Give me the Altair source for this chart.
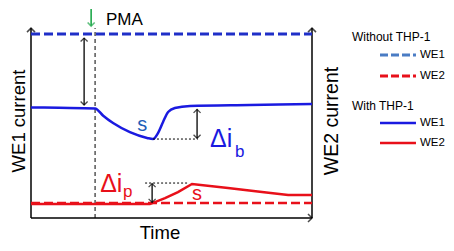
import altair as alt
import pandas as pd

# ---------------- data (time and current in arbitrary units 0-100) ----------------
time_we1 = [0, 10, 22.8, 25.7, 29.2, 35.2, 41.3, 43.4, 45.2, 47.0, 48.8, 51.2, 56.6, 77.9, 100]
we1_with = [58.8, 58.6, 58.3, 54.4, 50.5, 45.7, 42.6, 42.0, 45.2, 51.1, 56.4, 58.5, 59.6, 60.1, 60.6]
time_we2 = [0, 42.3, 47.7, 52.3, 57.3, 70.1, 82.2, 91.5, 100]
we2_with = [7.4, 7.4, 10.6, 13.8, 18.1, 16.0, 13.8, 12.2, 12.2]
time_span = [0, 100]
we1_without = [97.9, 97.9]
we2_without = [8.0, 8.0]

pma_time = 22.8
legend_groups = ["Without THP-1", "With THP-1"]
legend_labels = ["WE1", "WE2"]

FONT = "Liberation Sans"
BLUE = "#1a1ae0"
BLUE_D = "#1f2fc8"
BLUE_L = "#4a7cc4"
RED = "#e8101a"
GREEN = "#1fa84a"

xs = alt.Scale(domain=[0, 100], nice=False, zero=False)
ys = alt.Scale(domain=[0, 100], nice=False, zero=False)
X = alt.X("t:Q", scale=xs, axis=None)
Y = alt.Y("c:Q", scale=ys, axis=None)


def line(df, color, width, dash=None):
    kw = dict(color=color, strokeWidth=width, clip=False)
    if dash:
        kw["strokeDash"] = dash
    return alt.Chart(df).mark_line(**kw).encode(x=X, y=Y, detail="g:N", order="o:Q")


def segs(pairs):
    rows = []
    for i, ((t1, c1), (t2, c2)) in enumerate(pairs):
        rows.append({"t": t1, "c": c1, "g": i, "o": 0})
        rows.append({"t": t2, "c": c2, "g": i, "o": 1})
    return pd.DataFrame(rows)


def heads(rows, color="black", size=64, width=1.3):
    df = pd.DataFrame(rows, columns=["t", "c", "a"])
    return alt.Chart(df).mark_point(
        shape="M-1,1L0,0L1,1", filled=False, color=color, strokeWidth=width, size=size, clip=False
    ).encode(x=X, y=Y, angle=alt.Angle("a:Q", scale=None))


def text(rows, color="black", size=12, align="left", angle=0):
    df = pd.DataFrame(rows, columns=["t", "c", "s"])
    kw = dict(font=FONT, fontSize=size, color=color, align=align, baseline="alphabetic", clip=False)
    if angle:
        kw["angle"] = angle
    return alt.Chart(df).mark_text(**kw).encode(x=X, y=Y, text="s:N")


curve_we1 = pd.DataFrame({"t": time_we1, "c": we1_with, "g": 0, "o": range(len(time_we1))})
curve_we2 = pd.DataFrame({"t": time_we2, "c": we2_with, "g": 0, "o": range(len(time_we2))})
base_we1 = pd.DataFrame({"t": time_span, "c": we1_without, "g": 0, "o": [0, 1]})
base_we2 = pd.DataFrame({"t": time_span, "c": we2_without, "g": 0, "o": [0, 1]})

layers = [
    # axes
    line(segs([((0, 0), (0, 101)), ((100, 0), (100, 101)), ((0, 0), (100, 0))]), "black", 1.5),
    heads([(0, 101, 0), (100, 101, 0), (100, 0, 90)], size=64, width=1.5),
    # PMA marker
    line(segs([((pma_time, 0), (pma_time, 101))]), "black", 1, [4, 3]),
    line(segs([((21.4, 111.2), (21.4, 102.3))]), GREEN, 1.6),
    heads([(21.4, 102.1, 180)], color=GREEN, size=49, width=1.6),
    # curves
    line(base_we1, BLUE_D, 3, [9, 4]),
    line(base_we2, RED, 2.5, [9, 4]),
    line(curve_we2, RED, 2.5),
    alt.Chart(curve_we1).mark_line(color=BLUE, strokeWidth=2.5, interpolate="monotone", clip=False)
    .encode(x=X, y=Y, order="o:Q"),
    # dotted guides
    line(segs([((43.4, 42.0), (59.4, 42.0)), ((40.6, 18.6), (55.9, 18.6))]), "black", 1, [2, 2]),
    # double arrows
    line(segs([((18.9, 95.7), (18.9, 60.1)), ((59.1, 57.8), (59.1, 42.4)), ((43.1, 18.3), (43.1, 8.3))]), "black", 1.3),
    heads([(18.9, 95.7, 0), (18.9, 60.1, 180), (59.1, 57.8, 0), (59.1, 42.4, 180),
           (43.1, 18.3, 0), (43.1, 8.3, 180)], size=49, width=1.3),
    # annotation text
    text([(26.7, 102.8, "PMA")], size=17),
    text([(37.8, 46.3, "s")], color="#1f5fb8", size=20),
    text([(57.3, 9.6, "s")], color=RED, size=20),
    text([(63.7, 37.8, "Δi")], color=BLUE, size=25),
    text([(72.6, 32.4, "b")], color=BLUE, size=17),
    text([(24.6, 13.8, "Δi")], color=RED, size=25),
    text([(32.7, 11.2, "p")], color=RED, size=17),
    # axis titles
    text([(-2.0, 51.6, "WE1 current")], size=18.5, align="center", angle=270),
    text([(109.3, 51.6, "WE2 current")], size=19.5, align="center", angle=270),
    text([(45.9, -11.2, "Time")], size=18.5, align="center"),
    # legend
    text([(114.2, 94.2, legend_groups[0]), (114.2, 57.5, legend_groups[1])], size=12),
    text([(138.4, 85.1, legend_labels[0]), (138.4, 74.0, legend_labels[1]),
          (138.4, 48.9, legend_labels[0]), (138.4, 38.2, legend_labels[1])], size=11.5),
    line(segs([((124.2, 86.7), (137.0, 86.7))]), BLUE_L, 3, [8, 3]),
    line(segs([((124.2, 75.5), (137.0, 75.5))]), RED, 3, [8, 3]),
    line(segs([((124.2, 50.5), (137.0, 50.5))]), BLUE, 2.5),
    line(segs([((124.2, 39.9), (137.0, 39.9))]), RED, 2.5),
]

chart = alt.layer(*layers).properties(
    width=281, height=188,
    padding={"left": 23, "top": 22, "right": 134, "bottom": 25},
    autosize=alt.AutoSizeParams(type="none"),
    background="white",
).configure_view(stroke=None)

chart.save("out.html", embed_options={"renderer": "svg", "actions": False})
